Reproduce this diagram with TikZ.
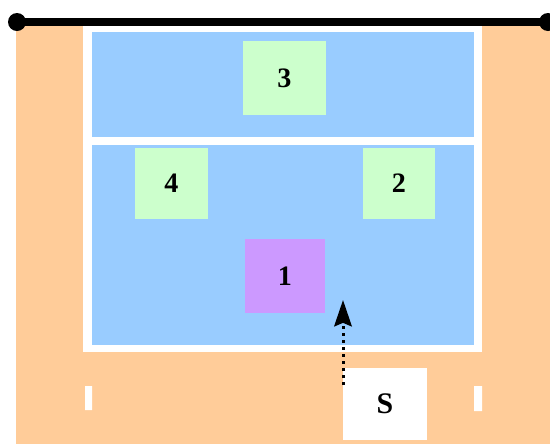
\documentclass[tikz,border=0pt]{standalone}
\usepackage{fontspec}
\setmainfont{Liberation Serif}
\usetikzlibrary{arrows.meta}
\definecolor{court}{RGB}{255,204,153}
\definecolor{floorblue}{RGB}{153,204,255}
\definecolor{frontrow}{RGB}{204,255,204}
\definecolor{server}{RGB}{204,153,255}
\tikzset{
  player/.style={rectangle,fill=frontrow,inner sep=0pt,font=\fontsize{16}{16}\selectfont\bfseries},
  serverbox/.style={player,fill=white,font=\fontsize{17}{17}\selectfont\bfseries}
}
\begin{document}
\begin{tikzpicture}[x=0.02cm,y=-0.02cm,line cap=round,line join=round]
\useasboundingbox (0,0) rectangle (550,444);
\coordinate (NL) at (17,22);
\coordinate (NR) at (548,22);
\fill[court] (16,22) rectangle (550,444);
\fill[white] (83,26) rectangle (482,352);
\fill[floorblue] (92,32) rectangle (474,137);
\fill[floorblue] (92,145) rectangle (474,345);
\fill[white] (85,386) rectangle (92,410) (474,386) rectangle (482,411);
\draw[line width=4.4pt] (NL) -- (NR);
\fill (NL) circle[radius=9] (NR) circle[radius=9];

\node[player,minimum width=1.66cm,minimum height=1.48cm] (p3) at (284.5,78) {3};
\node[player,minimum width=1.46cm,minimum height=1.42cm] (p4) at (171.5,183.5) {4};
\node[player,minimum width=1.44cm,minimum height=1.42cm] (p2) at (399,183.5) {2};
\node[player,fill=server,minimum width=1.6cm,minimum height=1.48cm] (p1) at (285,276) {1};
\node[serverbox,minimum width=1.68cm,minimum height=1.44cm] (s) at (385,404) {S};

\coordinate (serve) at (343,385);
\coordinate (aim) at (343,300);
\draw[line width=1.7pt,dash pattern=on 1.7pt off 2.3pt,line cap=butt,-{Stealth[length=15pt,width=10pt,inset=2pt]}] (serve) -- (aim);
\end{tikzpicture}
\end{document}
